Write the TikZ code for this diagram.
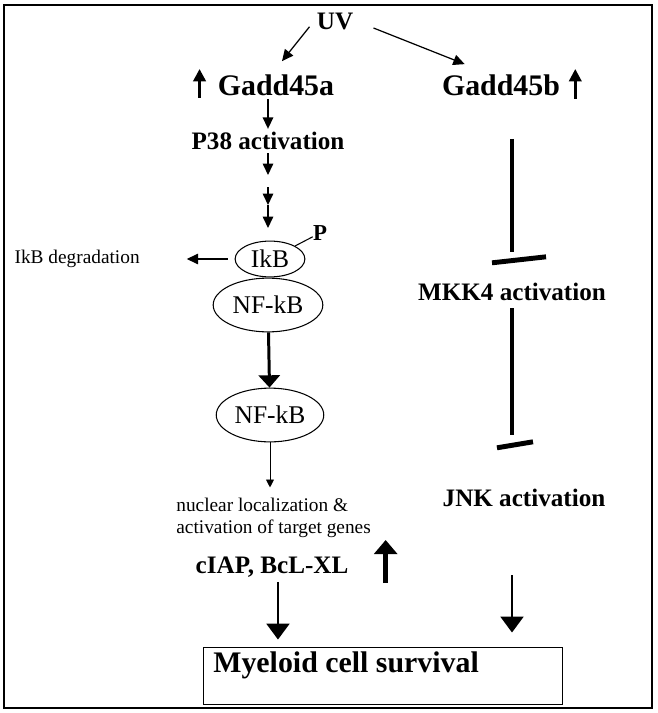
\documentclass[tikz,border=0pt]{standalone}
\usepackage{fontspec}
\setmainfont{Liberation Serif}
\usetikzlibrary{arrows.meta,shapes.geometric}

\begin{document}
\begin{tikzpicture}[x=0.02cm, y=-0.02cm,
    big/.style={font=\bfseries\fontsize{17}{20}\selectfont, inner sep=0pt},
    mid/.style={font=\bfseries\fontsize{14.3}{17}\selectfont, inner sep=0pt},
    small/.style={font=\fontsize{11}{12.2}\selectfont, inner sep=0pt},
    oval/.style={draw, ellipse, inner sep=0pt, line width=0.6pt, font=\fontsize{14.5}{16}\selectfont},
    arr/.style={-{Triangle[length=6.5pt, width=6pt]}, line width=0.7pt},
    thinarr/.style={-{Triangle[length=4.5pt, width=4.5pt]}, line width=0.5pt},
    thickarr/.style={-{Triangle[length=7pt, width=12pt]}, line width=1.7pt},
    downarr/.style={-{Triangle[length=9pt, width=13pt]}, line width=1.2pt},
    uparr/.style={-{Triangle[length=7pt, width=7pt]}, line width=1.7pt},
    bigup/.style={-{Triangle[length=8pt, width=13pt]}, line width=2.6pt},
    block/.style={line width=2.8pt},
]
    \useasboundingbox (0,0) rectangle (657,713);

    % Frame
    \draw[line width=1.1pt] (4,5) rectangle (652,708);

    % Labels
    \node[mid] (uv) at (335,21) {UV};
    \node[big] (gadda) at (276,85) {Gadd45a};
    \node[big] (gaddb) at (501,85) {Gadd45b};
    \node[mid] (p38) at (268,141) {P38 activation};
    \node[mid] (mkk4) at (512,292) {MKK4 activation};
    \node[mid] (jnk) at (524,498) {JNK activation};
    \node[mid] (ciap) at (272,567) {cIAP, BcL-XL};
    \node[small, anchor=east] (deg) at (140,259) {IkB degradation};
    \node[small, align=left, anchor=north west] (nuc) at (176,498) {nuclear localization \&\\activation of target genes};

    % Complex
    \node[oval, minimum width=39.7pt, minimum height=20.4pt] (ikb) at (270,259) {IkB};
    \node[font=\bfseries\fontsize{13}{15}\selectfont, inner sep=0pt] (pmark) at (320,233) {P};
    \node[oval, minimum width=62.4pt, minimum height=30.6pt] (nfkba) at (268,305) {NF-kB};
    \node[oval, minimum width=61.2pt, minimum height=30.6pt] (nfkbb) at (270,415) {NF-kB};

    % Survival box
    \node[draw, line width=0.6pt, minimum width=204pt, minimum height=32.9pt, inner sep=0pt] (box) at (383,676) {};
    \node[big, anchor=west] (surv) at (213,665) {Myeloid cell survival};

    % UV branches
    \draw[arr] ([shift={(-7,-3)}]uv.south west) -- ([shift={(6,-13)}]gadda.north);
    \draw[arr] ([shift={(20,7)}]uv.east) -- ([shift={(23,-10)}]gaddb.north west);

    % Up-regulation marks
    \coordinate (upa) at ([shift={(-18,13)}]gadda.west);
    \coordinate (upb) at ([shift={(15,14)}]gaddb.east);
    \coordinate (upc) at ([shift={(37,16)}]ciap.east);
    \draw[uparr] (upa) -- ++(0,-29);
    \draw[uparr, line width=1.5pt] (upb) -- ++(0,-30);
    \draw[bigup] (upc) -- ++(0,-43);

    % Gadd45a / p38 branch
    \draw[arr, shorten <=1.7pt, shorten >=1.7pt] (p38.north |- gadda.south) -- (p38.north);
    \foreach \ya/\yb in {153/175, 187/205, 205/228}
        \draw[arr] (p38.south |- 0,\ya) -- (p38.south |- 0,\yb);
    \draw[line width=0.6pt] (ikb) -- (pmark);
    \draw[arr, shorten <=4pt, shorten >=26.6pt] (ikb.west) -- (deg);
    \draw[thickarr] (nfkba) -- (nfkbb);
    \draw[thinarr, shorten >=6pt] (nfkbb.south) -- (nfkbb.south |- nuc.north);
    \draw[downarr, shorten <=2.5pt, shorten >=4pt] ([xshift=3.4pt]ciap.south) -- ([xshift=3.4pt]ciap.south |- box.north);

    % Gadd45b / JNK branch
    \coordinate (ra) at (mkk4.north |- gaddb.south);
    \coordinate (rb) at (mkk4.south |- jnk.north);
    \coordinate (rc) at (mkk4.south |- jnk.south);
    \draw[block] ([shift={(0,43)}]ra) -- ([shift={(0,-31)}]mkk4.north);
    \draw[block] ([shift={(-20,-20)}]mkk4.north) -- ([shift={(34,-26)}]mkk4.north);
    \draw[block] ([shift={(0,7)}]mkk4.south) -- ([shift={(0,-54)}]rb);
    \draw[block] ([shift={(-15,-41)}]rb) -- ([shift={(21,-47)}]rb);
    \draw[downarr, shorten >=8pt] ([shift={(0,68)}]rc) -- (rc |- box.north);

\end{tikzpicture}
\end{document}
